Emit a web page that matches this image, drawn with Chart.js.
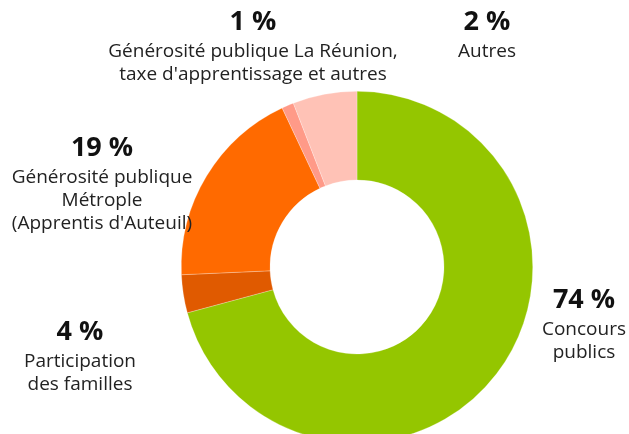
<!DOCTYPE html>
<html>
<head>
<meta charset="utf-8">
<script src="https://cdn.jsdelivr.net/npm/chart.js@4"></script>
<style>
    html, body { margin: 0; padding: 0; background: #fff; overflow: hidden; }
    #container { position: relative; width: 629px; height: 460px; }
</style>
</head>
<body>
<div id="container">
    <canvas id="myCanvas"></canvas>
</div>
<script>
// slice order: clockwise from 12 o'clock
const categories = ["Concours publics", "Participation des familles", "Générosité publique Métrople (Apprentis d'Auteuil)", "Générosité publique La Réunion, taxe d'apprentissage et autres", "Autres"];
const sliceValues = [70.8, 3.5, 18.7, 1.1, 5.9];
const percentLabels = ["74 %", "4 %", "19 %", "1 %", "2 %"];
const labelLines = [
    ["Concours", "publics"],
    ["Participation", "des familles"],
    ["Générosité publique", "Métrople", "(Apprentis d'Auteuil)"],
    ["Générosité publique La Réunion,", "taxe d'apprentissage et autres"],
    ["Autres"]
];
const sliceColors = ["#94c600", "#e05a00", "#ff6a00", "#ff9a88", "#ffc2b6"];

// where each text block sits (x centre, y of the percent line)
const labelPos = [[584, 300], [80, 332], [102, 148], [253, 22], [487, 22]];

const calloutPlugin = {
    id: 'callouts',
    afterDraw(chart) {
        const ctx = chart.ctx;
        ctx.save();
        ctx.textAlign = 'center';
        ctx.textBaseline = 'middle';
        percentLabels.forEach((pct, i) => {
            const [x, y] = labelPos[i];
            ctx.fillStyle = '#111';
            ctx.font = 'bold 27px "Open Sans"';
            ctx.fillText(pct, x, y);
            ctx.fillStyle = '#222';
            ctx.font = '19px "Open Sans"';
            labelLines[i].forEach((line, j) => {
                ctx.fillText(line, x, y + 30 + j * 23);
            });
        });
        ctx.restore();
    }
};

const ctx = document.getElementById('myCanvas').getContext('2d');
const myChart = new Chart(ctx, {
    type: 'doughnut',
    data: {
        labels: categories,
        datasets: [{
            data: sliceValues,
            backgroundColor: sliceColors,
            borderColor: 'rgba(255,255,255,0.5)',
            borderWidth: 0.5
        }]
    },
    options: {
        responsive: true,
        maintainAspectRatio: false,
        animation: false,
        cutout: '49.5%',
        layout: { padding: { left: 181, right: 96, top: 91, bottom: 17 } },
        plugins: {
            legend: { display: false },
            tooltip: { enabled: false }
        }
    },
    plugins: [calloutPlugin]
});
</script>
</body>
</html>
